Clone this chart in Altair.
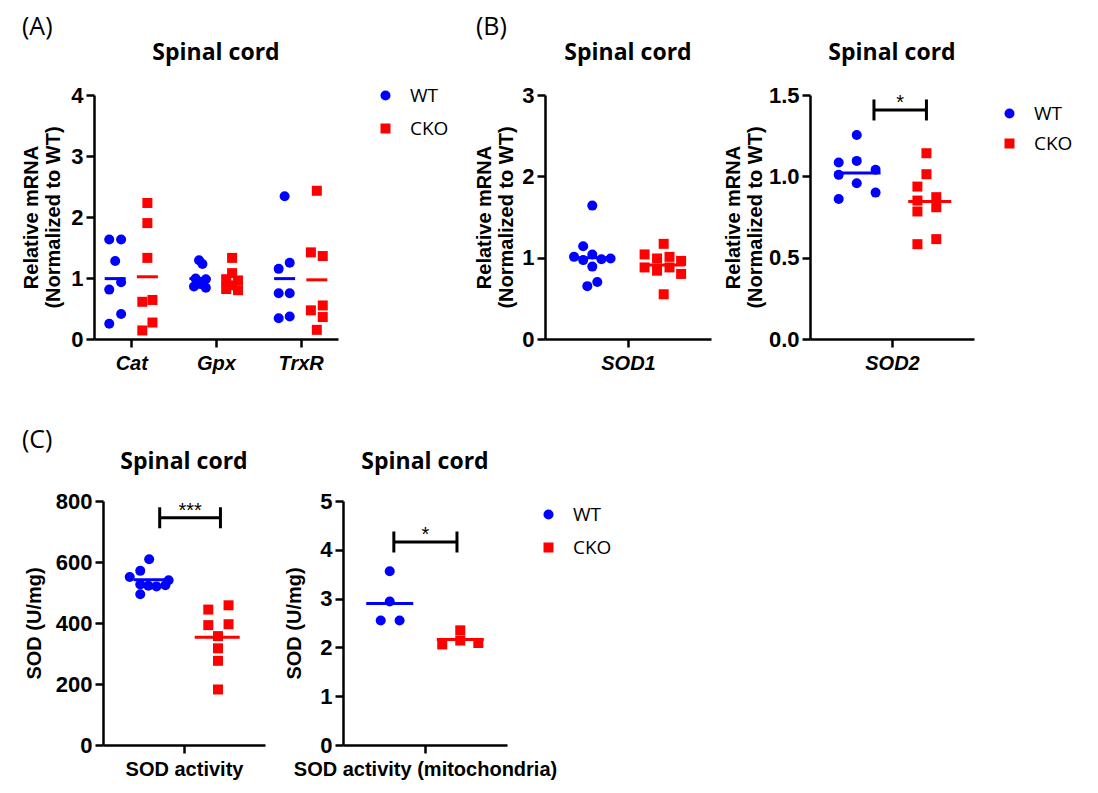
import altair as alt
import pandas as pd

# ---------------- data ----------------
groups = ["WT", "CKO"]

# (A) genes, x positions = gene index + jitter
genes_a = ["Cat", "Gpx", "TrxR"]
cat_wt = [1.63, 1.63, 1.28, 0.93, 0.81, 0.41, 0.25]
cat_wt_jit = [-0.26, -0.12, -0.19, -0.12, -0.26, -0.12, -0.26]
cat_cko = [2.23, 1.90, 1.33, 0.64, 0.61, 0.27, 0.14]
cat_cko_jit = [0.19, 0.19, 0.19, 0.25, 0.13, 0.25, 0.13]
gpx_wt = [1.29, 1.23, 0.99, 0.98, 0.90, 0.86, 0.84]
gpx_wt_jit = [-0.20, -0.16, -0.24, -0.12, -0.18, -0.26, -0.12]
gpx_cko = [1.33, 1.08, 0.98, 0.96, 0.88, 0.82, 0.80]
gpx_cko_jit = [0.19, 0.19, 0.12, 0.26, 0.19, 0.12, 0.26]
trx_wt = [2.34, 1.25, 1.15, 0.75, 0.75, 0.37, 0.34]
trx_wt_jit = [-0.19, -0.13, -0.26, -0.26, -0.13, -0.13, -0.26]
trx_cko = [2.43, 1.42, 1.36, 0.55, 0.47, 0.36, 0.15]
trx_cko_jit = [0.19, 0.12, 0.26, 0.26, 0.12, 0.26, 0.19]
mean_a_wt = [0.99, 0.99, 0.99]
mean_a_cko = [1.02, 0.92, 0.97]

# (B) SOD1
sod1_wt = [1.64, 1.14, 1.01, 1.04, 0.97, 0.98, 0.99, 0.89, 0.70, 0.65]
sod1_wt_jit = [-0.43, -0.54, -0.65, -0.43, -0.54, -0.32, -0.21, -0.43, -0.37, -0.49]
sod1_cko = [1.17, 1.04, 0.99, 1.01, 0.96, 0.88, 0.84, 0.88, 0.80, 0.55]
sod1_cko_jit = [0.43, 0.20, 0.35, 0.50, 0.64, 0.20, 0.35, 0.50, 0.64, 0.43]
mean_sod1 = [1.00, 0.91]

# (B) SOD2
sod2_wt = [1.254, 1.085, 1.095, 1.040, 1.009, 0.958, 0.900, 0.861]
sod2_wt_jit = [-0.43, -0.65, -0.43, -0.20, -0.65, -0.43, -0.20, -0.65]
sod2_cko = [1.142, 1.013, 0.937, 0.851, 0.872, 0.784, 0.810, 0.614, 0.583]
sod2_cko_jit = [0.42, 0.42, 0.31, 0.31, 0.54, 0.31, 0.54, 0.54, 0.31]
mean_sod2 = [1.02, 0.845]
sig_sod2 = "*"

# (C) SOD activity
act_wt = [609, 571, 551, 540, 526, 522, 520, 524, 494]
act_wt_jit = [-0.43, -0.54, -0.67, -0.19, -0.54, -0.44, -0.34, -0.23, -0.54]
act_cko = [444, 458, 393, 396, 357, 317, 276, 182]
act_cko_jit = [0.30, 0.55, 0.30, 0.55, 0.42, 0.42, 0.42, 0.42]
mean_act = [542, 353]
sig_act = "***"

# (C) SOD activity (mitochondria)
mito_wt = [3.56, 2.94, 2.55, 2.55]
mito_wt_jit = [-0.43, -0.43, -0.54, -0.31]
mito_cko = [2.06, 2.35, 2.14, 2.09]
mito_cko_jit = [0.21, 0.43, 0.43, 0.65]
mean_mito = [2.90, 2.16]
sig_mito = "*"

panel_labels = ["(A)", "(B)", "(C)"]
panel_title = "Spinal cord"
ytitle_mrna = ["Relative mRNA", "(Normalized to WT)"]
ytitle_sod = "SOD (U/mg)"

# ---------------- styling ----------------
BLUE, RED = "#0000FF", "#FF0000"
FONT = "Liberation Sans"
TFONT = "Open Sans"
color_scale = alt.Scale(domain=groups, range=[BLUE, RED])
shape_scale = alt.Scale(domain=groups, range=["circle", "square"])


def pts(values, jitter, center, group):
    return pd.DataFrame({"x": [center + j for j in jitter], "value": values, "group": group})


def make_legend(lx, ly, row_pad):
    return alt.Legend(title=None, orient="none", legendX=lx, legendY=ly,
                      labelFont=TFONT, labelFontSize=19, labelColor="black",
                      symbolSize=100, rowPadding=row_pad, labelOffset=15,
                      padding=0, symbolStrokeWidth=0, symbolOpacity=1)


def panel(points, means, mean_pos, mean_w, xdom, xlabels, italic, ydom, yvals, yfmt,
          ytitle, tpad, w, h, legend, title_y, bracket=None, plabel=None, plabel_xy=None,
          anchor=False):
    xs = alt.Scale(domain=xdom, nice=False, zero=False)
    ys = alt.Scale(domain=ydom, nice=False, zero=False)
    label_expr = "[" + ",".join("'%s'" % l for l in xlabels) + "][datum.value]"
    xaxis = alt.Axis(values=list(range(len(xlabels))), labelExpr=label_expr, title=None,
                     labelFontStyle="italic" if italic else "normal", grid=False,
                     labelFlush=False, labelPadding=6, labelLimit=0, labelFontSize=20)
    yaxis = alt.Axis(values=yvals, format=yfmt, title=ytitle, grid=False,
                     titlePadding=tpad, labelFontSize=22)
    X = lambda f="x:Q": alt.X(f, scale=xs, axis=xaxis)
    Y = lambda f="value:Q": alt.Y(f, scale=ys, axis=yaxis)
    layers = []
    # mean lines (drawn behind points)
    for gi, (g, col) in enumerate(zip(groups, [BLUE, RED])):
        md = pd.DataFrame({"x": [c + mean_pos[gi] for c in range(len(xlabels))],
                           "value": means[gi]})
        layers.append(
            alt.Chart(md).mark_tick(orient="horizontal", thickness=3, size=mean_w[gi],
                                    color=col, opacity=1)
            .encode(x=X(), y=Y())
        )
    layers.append(
        alt.Chart(points).mark_point(filled=True, size=100, opacity=1, strokeWidth=0)
        .encode(
            x=X(), y=Y(),
            color=alt.Color("group:N", scale=color_scale, legend=legend),
            shape=alt.Shape("group:N", scale=shape_scale, legend=legend),
        )
    )
    if bracket is not None:
        b0, b1, by, stars = bracket
        layers.append(
            alt.Chart(pd.DataFrame({"x": [b0], "x2": [b1], "value": [by]}))
            .mark_rule(strokeWidth=3, color="black")
            .encode(x=X(), x2="x2:Q", y=Y())
        )
        layers.append(
            alt.Chart(pd.DataFrame({"x": [b0, b1], "value": [by, by]}))
            .mark_tick(orient="vertical", size=21, thickness=3, color="black", opacity=1)
            .encode(x=X(), y=Y())
        )
        layers.append(
            alt.Chart(pd.DataFrame({"x": [(b0 + b1) / 2], "value": [by], "t": [stars]}))
            .mark_text(font=FONT, fontSize=20, baseline="alphabetic", dy=-1, color="black")
            .encode(x=X(), y=Y(), text="t:N")
        )
    layers.append(
        alt.Chart(pd.DataFrame({"t": [panel_title]}))
        .mark_text(font=TFONT, fontWeight="bold", fontSize=23, baseline="alphabetic",
                   align="center", color="black")
        .encode(text="t:N", x=alt.value(w / 2), y=alt.value(title_y))
    )
    if plabel is not None:
        layers.append(
            alt.Chart(pd.DataFrame({"t": [plabel]}))
            .mark_text(font=TFONT, fontSize=25, baseline="middle", align="left", color="black")
            .encode(text="t:N", x=alt.value(plabel_xy[0]), y=alt.value(plabel_xy[1]))
        )
    if anchor:
        # invisible layout anchor fixing the figure's top-left corner
        layers.append(
            alt.Chart(pd.DataFrame({"a": [0]})).mark_point(size=1, opacity=0)
            .encode(x=alt.value(-85), y=alt.value(-86.5))
        )
    return alt.layer(*layers).properties(width=w, height=h)


H = 244

# (A)
df_a = pd.concat([
    pts(cat_wt, cat_wt_jit, 0, "WT"), pts(cat_cko, cat_cko_jit, 0, "CKO"),
    pts(gpx_wt, gpx_wt_jit, 1, "WT"), pts(gpx_cko, gpx_cko_jit, 1, "CKO"),
    pts(trx_wt, trx_wt_jit, 2, "WT"), pts(trx_cko, trx_cko_jit, 2, "CKO"),
])
chart_a = panel(df_a, [mean_a_wt, mean_a_cko], [-0.19, 0.19], [21, 21], [-0.44, 2.44], genes_a,
                True, [0, 4], [0, 1, 2, 3, 4], "d", ytitle_mrna, 7, 244, H,
                make_legend(282, -9, 13), -35, plabel=panel_labels[0], plabel_xy=(-72, -68),
                anchor=True)

# (B) SOD1
df_b1 = pd.concat([pts(sod1_wt, sod1_wt_jit, 0, "WT"), pts(sod1_cko, sod1_cko_jit, 0, "CKO")])
chart_b1 = panel(df_b1, [[mean_sod1[0]], [mean_sod1[1]]], [-0.43, 0.42], [44, 44], [-1, 1], ["SOD1"],
                 True, [0, 3], [0, 1, 2, 3], "d", ytitle_mrna, 5, 166, H, None, -35,
                 plabel=panel_labels[1], plabel_xy=(-69, -68))

# (B) SOD2
df_b2 = pd.concat([pts(sod2_wt, sod2_wt_jit, 0, "WT"), pts(sod2_cko, sod2_cko_jit, 0, "CKO")])
chart_b2 = panel(df_b2, [[mean_sod2[0]], [mean_sod2[1]]], [-0.42, 0.46], [46, 43], [-1, 1], ["SOD2"],
                 True, [0, 1.5], [0, 0.5, 1.0, 1.5], ".1f", ytitle_mrna, 3, 164, H,
                 make_legend(190, 9, 10), -35, bracket=(-0.22, 0.42, 1.408, sig_sod2))

# (C) SOD activity
df_c1 = pd.concat([pts(act_wt, act_wt_jit, 0, "WT"), pts(act_cko, act_cko_jit, 0, "CKO")])
chart_c1 = panel(df_c1, [[mean_act[0]], [mean_act[1]]], [-0.38, 0.41], [39, 45], [-1, 1],
                 ["SOD activity"], False, [0, 800], [0, 200, 400, 600, 800], "d", ytitle_sod,
                 11, 162, H, None, -32, bracket=(-0.30, 0.45, 745, sig_act),
                 plabel=panel_labels[2], plabel_xy=(-81, -61))

# (C) SOD activity (mitochondria)
df_c2 = pd.concat([pts(mito_wt, mito_wt_jit, 0, "WT"), pts(mito_cko, mito_cko_jit, 0, "CKO")])
chart_c2 = panel(df_c2, [[mean_mito[0]], [mean_mito[1]]], [-0.43, 0.43], [47, 47], [-1, 1],
                 ["SOD activity (mitochondria)"], False, [0, 5], [0, 1, 2, 3, 4, 5], "d",
                 ytitle_sod, 15, 164, H, make_legend(196, 4, 13), -32,
                 bracket=(-0.38, 0.39, 4.16, sig_mito))

spacer = (alt.Chart(pd.DataFrame({"s": [0]})).mark_point(opacity=0)
          .encode(x=alt.X("s:Q", axis=None), y=alt.Y("s:Q", axis=None))
          .properties(width=1, height=1))


def indep(c):
    return c.resolve_scale(x="independent", y="independent", color="independent",
                           shape="independent").resolve_legend(color="independent",
                                                               shape="independent")


b_row = indep(alt.hconcat(chart_b1, chart_b2, spacing=99, bounds="flush"))
top = indep(alt.hconcat(chart_a, b_row, spacing=207, bounds="flush"))
c_row = indep(alt.hconcat(chart_c1, chart_c2, spacing=78, bounds="flush"))
bottom = indep(alt.hconcat(spacer, c_row, spacing=8, bounds="flush"))

# nested concat rows report no height under flush bounds, so the gap includes the row height
chart = indep(alt.vconcat(top, bottom, spacing=H + 162, bounds="flush")).properties(
    padding={"left": 0, "top": 0, "right": 5, "bottom": 5}
).configure_axis(
    domainColor="black", domainWidth=2.5, tickColor="black", tickWidth=2.5, tickSize=8,
    labelFont=FONT, labelFontSize=20, labelFontWeight="bold", labelColor="black",
    titleFont=FONT, titleFontSize=20, titleFontWeight="bold", titleColor="black",
    labelPadding=3, titleLineHeight=22,
).configure_view(stroke=None)

chart.save("out.html", embed_options={"renderer": "svg", "actions": False})
